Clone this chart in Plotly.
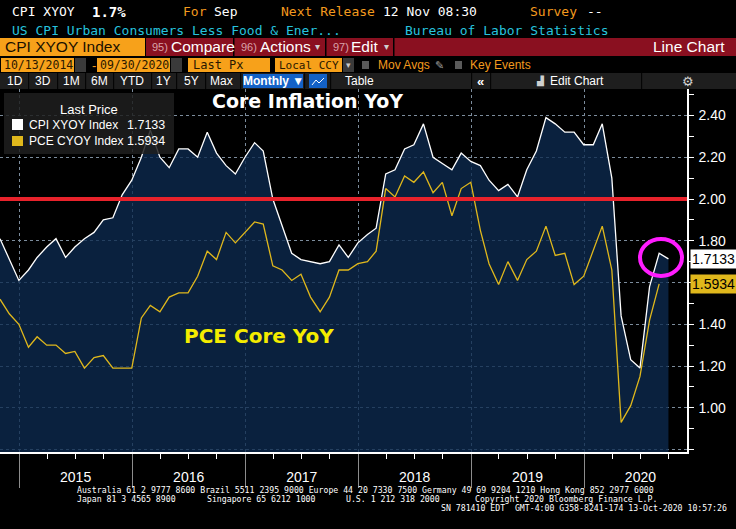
import pandas as pd
import plotly.graph_objects as go

# monthly readings, Oct 2014 .. Sep 2020 (CPI) and Oct 2014 .. Aug 2020 (PCE)
cpi_start = "2014-10-31"
cpi_core = [
    1.81, 1.71, 1.61,
    1.66, 1.72, 1.77, 1.81, 1.72, 1.77, 1.81, 1.84, 1.90, 1.91, 2.02, 2.09,
    2.20, 2.33, 2.20, 2.15, 2.24, 2.24, 2.20, 2.32, 2.22, 2.16, 2.12, 2.20,
    2.27, 2.23, 2.00, 1.87, 1.74, 1.71, 1.70, 1.69, 1.70, 1.78, 1.72, 1.79,
    1.83, 1.86, 2.12, 2.14, 2.24, 2.26, 2.36, 2.20, 2.17, 2.14, 2.22, 2.18,
    2.16, 2.09, 2.04, 2.07, 2.01, 2.14, 2.23, 2.39, 2.36, 2.32, 2.32, 2.26,
    2.26, 2.36, 2.10, 1.44, 1.23, 1.19, 1.58, 1.74, 1.7133,
]
pce_core = [
    1.52, 1.45, 1.40,
    1.29, 1.34, 1.30, 1.30, 1.26, 1.27, 1.19, 1.24, 1.25, 1.19, 1.19, 1.19,
    1.43, 1.49, 1.46, 1.53, 1.55, 1.55, 1.63, 1.75, 1.71, 1.84, 1.79, 1.84,
    1.89, 1.88, 1.68, 1.66, 1.61, 1.64, 1.53, 1.46, 1.53, 1.66, 1.66, 1.69,
    1.70, 1.75, 2.05, 2.01, 2.11, 2.08, 2.13, 2.03, 2.08, 1.92, 2.05, 2.08,
    1.85, 1.69, 1.59, 1.70, 1.61, 1.71, 1.75, 1.87, 1.73, 1.74, 1.59, 1.63,
    1.75, 1.87, 1.66, 0.93, 1.01, 1.15, 1.42, 1.5934,
]
target = 2.0
y_ticks = [0.8, 1.0, 1.2, 1.4, 1.6, 1.8, 2.0, 2.2, 2.4]
y_labels = ["", "1.00", "1.20", "1.40", "", "1.80", "2.00", "2.20", "2.40"]

cpi_dates = pd.date_range(cpi_start, periods=len(cpi_core), freq=pd.offsets.MonthEnd())
pce_dates = pd.date_range(cpi_start, periods=len(pce_core), freq=pd.offsets.MonthEnd())

W, H = 736, 529
L, R, T, B = 0, 49, 89, 77
PW, PH = W - L - R, H - T - B

ORANGE = "#f7a11a"
ORANGE_TXT = "#f39a1e"
RED = "#8a1020"
CYAN = "#27c3de"
GOLD = "#e0b81c"
NAVY = "rgba(13,42,80,0.78)"
GRID = "#7c8c9c"
MONO = "DejaVu Sans Mono"
SANS = "Liberation Sans, Arial, sans-serif"
HEAVY = "DejaVu Sans"


def px(x):
    return (x - L) / PW


def py(y):
    return (H - B - y) / PH


shapes = []
annos = []


def rect(x0, y0, x1, y1, color):
    shapes.append(dict(type="rect", xref="paper", yref="paper", x0=px(x0), x1=px(x1),
                       y0=py(y1), y1=py(y0), fillcolor=color, line_width=0, layer="above"))


def txt(x, y, s, color="white", size=13, family=SANS, anchor="left"):
    annos.append(dict(xref="paper", yref="paper", x=px(x), y=py(y), text=s, showarrow=False,
                      xanchor=anchor, yanchor="middle", font=dict(color=color, size=size, family=family)))


# header rows
txt(10, 12, "CPI XYOY", size=13, family=MONO)
txt(90, 12, "<b>1.7%</b>", size=14, family=MONO)
txt(181, 12, "For", ORANGE_TXT, 13, MONO)
txt(212, 12, "Sep", size=13, family=MONO)
txt(279, 12, "Next Release", ORANGE_TXT, 13, MONO)
txt(381, 12, "12 Nov 08:30", size=13, family=MONO)
txt(528, 12, "Survey", ORANGE_TXT, 13, MONO)
txt(585, 12, "--", size=13, family=MONO)
txt(10, 31, "US CPI Urban Consumers Less Food & Ener...", CYAN, 13, MONO)
txt(403, 31, "Bureau of Labor Statistics", CYAN, 13, MONO)

rect(0, 38, 145, 56, ORANGE)
rect(146, 38, 736, 56, RED)
for sx in [233, 325, 393]:
    rect(sx, 38, sx + 1.5, 56, "#000000")
txt(3, 47, "CPI XYOY Index", "#1a1000", 15.5)
txt(150, 47, "95)", "#d9a3aa", 11)
txt(169, 47, "Compare", size=15.5)
txt(239, 47, "96)", "#d9a3aa", 11)
txt(258, 47, "Actions", size=15.5)
txt(313, 47, "▾", "#d0d0d0", 10)
txt(331, 47, "97)", "#d9a3aa", 11)
txt(349, 47, "Edit", size=15.5)
txt(382, 47, "▾", "#d0d0d0", 10)
txt(727, 47, "Line Chart", size=15.5, anchor="right")

rect(1, 58, 74, 72, ORANGE)
rect(75, 58, 86, 72, "#3a3a3a")
txt(90, 65, "-", ORANGE_TXT, 13)
rect(97, 58, 170, 72, ORANGE)
rect(171, 58, 182, 72, "#3a3a3a")
rect(188, 58, 270, 72, ORANGE)
rect(275, 58, 342, 72, ORANGE)
rect(343, 58, 354, 72, "#3a3a3a")
txt(2, 65, "10/13/2014", "#2a1800", 11.5, MONO)
txt(98, 65, "09/30/2020", "#2a1800", 11.5, MONO)
txt(191, 65, "Last Px", "#2a1800", 12, MONO)
txt(277, 65, "Local CCY", "#2a1800", 11, MONO)
txt(348, 65, "▾", "#c8c8c8", 9, anchor="center")
rect(362, 61, 369, 69, "#5a5a5a")
txt(376, 65, "Mov Avgs", ORANGE_TXT, 12)
txt(433, 65, "✎", "#9a9a9a", 11)
rect(455, 61, 462, 69, "#5a5a5a")
txt(468, 65, "Key Events", ORANGE_TXT, 12)

rect(0, 73, 736, 89, "#1e1e1e")
for sx in [28, 57, 85, 113, 151, 176, 205, 240, 304, 330, 471, 490, 641]:
    rect(sx, 73, sx + 1.2, 89, "#050505")
rect(243, 74, 303, 88, "#1361c6")
rect(309, 74, 327, 88, "#1361c6")
shapes.append(dict(type="path", xref="paper", yref="paper", layer="above",
                   path=f"M {px(312)} {py(85)} L {px(316)} {py(80)} L {px(319)} {py(83)} L {px(324)} {py(78)}",
                   line=dict(color="white", width=1)))
for lab, cx in [("1D", 15), ("3D", 43), ("1M", 71), ("6M", 99), ("YTD", 132),
                ("1Y", 163), ("5Y", 191), ("Max", 222)]:
    txt(cx, 81, lab, size=12, anchor="center")
txt(273, 81, "<b>Monthly ▼</b>", size=12, anchor="center")
txt(359, 81, "Table", size=12, anchor="center")
txt(480, 81, "<b>«</b>", size=13, anchor="center")
txt(548, 81, "Edit Chart", size=12)
txt(540, 81, "▟", "#cfcfcf", 9, anchor="center")
txt(688, 81, "⚙", "#cfcfcf", 13, anchor="center")

# legend box
rect(4, 93, 174, 154, "rgba(30,30,30,0.85)")
txt(89, 109, "Last Price", size=13, anchor="center")
rect(12, 119, 23, 130, "white")
rect(12, 136, 23, 146, GOLD)
txt(27, 125, "CPI XYOY Index", size=12)
txt(167, 125, f"{cpi_core[-1]:.4f}", size=12.5, anchor="right")
txt(27, 141, "PCE CYOY Index", size=12)
txt(167, 141, f"{pce_core[-1]:.4f}", size=12.5, anchor="right")

# chart notes
txt(307, 101, "<b>Core Inflation YoY</b>", size=19, family=HEAVY, anchor="center")
txt(259, 336, "<b>PCE Core YoY</b>", "#f4ec00", 20, HEAVY, anchor="center")

# 2% line and highlight ring
shapes.append(dict(type="line", xref="paper", yref="y", x0=0, x1=1, y0=target, y1=target,
                   line=dict(color="#e8222b", width=4), layer="above"))
shapes.append(dict(type="circle", xref="paper", yref="paper", x0=px(640), x1=px(682),
                   y0=py(276), y1=py(239), line=dict(color="#ff1cff", width=4), layer="above"))

# last-value tags on the right axis
for val, bg in [(cpi_core[-1], "white"), (pce_core[-1], GOLD)]:
    annos.append(dict(xref="paper", yref="y", x=px(690), y=val, text=f"{val:.4f}", showarrow=False,
                      xanchor="left", yanchor="middle", bgcolor=bg, borderpad=1,
                      font=dict(color="black", size=14, family=SANS)))

# footer
txt(75, 490, "Australia 61 2 9777 8600 Brazil 5511 2395 9000 Europe 44 20 7330 7500 Germany 49 69 9204 1210 Hong Kong 852 2977 6000", size=8.2, family=MONO)
txt(75, 499, "Japan 81 3 4565 8900", size=8.2, family=MONO)
txt(205, 499, "Singapore 65 6212 1000", size=8.2, family=MONO)
txt(344, 499, "U.S. 1 212 318 2000", size=8.2, family=MONO)
txt(659, 499, "Copyright 2020 Bloomberg Finance L.P.", size=8.2, family=MONO, anchor="right")
txt(729, 508, "SN 781410 EDT  GMT-4:00 G358-8241-174 13-Oct-2020 10:57:26", size=8.2, family=MONO, anchor="right")

fig = go.Figure()
fig.add_trace(go.Scatter(x=cpi_dates, y=cpi_core, mode="lines", line=dict(color="white", width=1.3),
                         fill="tozeroy", fillcolor=NAVY, hoverinfo="x+y"))
fig.add_trace(go.Scatter(x=pce_dates, y=pce_core, mode="lines", line=dict(color=GOLD, width=1.3),
                         hoverinfo="x+y"))
# arrow heads for the right-axis ticks and the value tags
fig.add_trace(go.Scatter(x=[1.006] * len(y_ticks), y=y_ticks, xaxis="x2", mode="markers",
                         marker=dict(symbol="triangle-right", size=8, color="white"),
                         cliponaxis=False, hoverinfo="skip"))
fig.add_trace(go.Scatter(x=[1.005, 1.005], y=[cpi_core[-1], pce_core[-1]], xaxis="x2", mode="markers",
                         marker=dict(symbol="triangle-left", size=12, color=["white", GOLD]),
                         cliponaxis=False, hoverinfo="skip"))

fig.update_layout(
    width=W, height=H,
    margin=dict(l=L, r=R, t=T, b=B),
    paper_bgcolor="black", plot_bgcolor="black",
    showlegend=False,
    font=dict(family=SANS, color="white"),
    xaxis=dict(type="date", range=["2014-10-31", "2020-11-29"], tick0="2015-01-01", dtick="M12",
               ticklabelmode="period", tickformat="%Y", ticks="outside", ticklen=34,
               tickcolor="#8c8c8c", tickwidth=1, ticklabelstandoff=-23,
               showline=True, linecolor="white", linewidth=2,
               showgrid=True, gridcolor=GRID, griddash="3px,3px", gridwidth=1, zeroline=False,
               tickfont=dict(color="white", size=14, family=SANS),
               minor=dict(dtick="M3", tick0="2015-01-01", ticks="outside", ticklen=5,
                          tickcolor="white", showgrid=False)),
    xaxis2=dict(overlaying="x", range=[0, 1], visible=False),
    yaxis=dict(side="right", range=[0.788, 2.527], tickmode="array", tickvals=y_ticks,
               ticktext=y_labels, ticks="outside", ticklen=7, tickcolor="rgba(0,0,0,0)",
               showline=True, linecolor="white", linewidth=1.5,
               showgrid=True, gridcolor=GRID, griddash="3px,3px", gridwidth=1, zeroline=False,
               tickfont=dict(color="white", size=14, family=SANS),
               minor=dict(tick0=0.7, dtick=0.1, ticks="outside", ticklen=5, tickcolor="white",
                          showgrid=False)),
    shapes=shapes,
    annotations=annos,
)

fig.write_html("out.html", config={"displayModeBar": False},
               post_script="document.body.style.margin='0';")
